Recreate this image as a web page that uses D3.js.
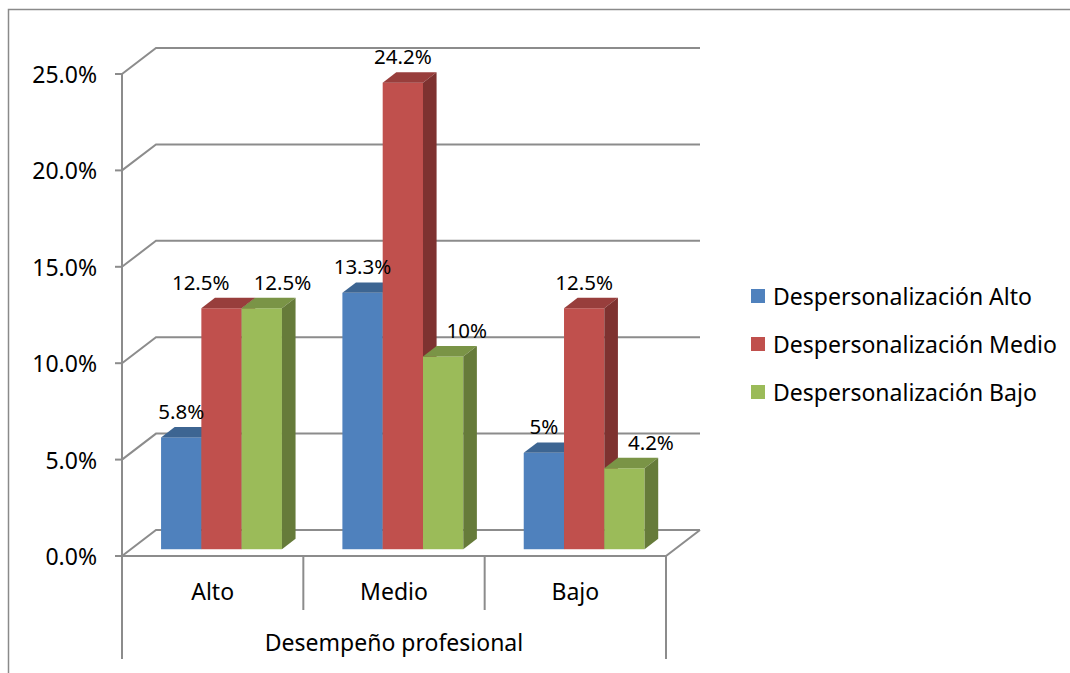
<!DOCTYPE html>
<html>
<head>
<meta charset="utf-8">
<script src="https://cdn.jsdelivr.net/npm/d3@7"></script>
<style>
  body { margin: 0; background: #fff; }
  svg text { font-family: "Noto Sans", "Open Sans", sans-serif; fill: #000; }
</style>
</head>
<body>
<svg id="chart" width="1070" height="673"></svg>
<script>
// data
const categories = ['Alto', 'Medio', 'Bajo'];
const seriesNames = ['Despersonalización Alto', 'Despersonalización Medio', 'Despersonalización Bajo'];
const serieAlto  = [5.8, 13.3, 5];
const serieMedio = [12.5, 24.2, 12.5];
const serieBajo  = [12.5, 10, 4.2];
const valueLabels = [
  ['5.8%', '13.3%', '5%'],
  ['12.5%', '24.2%', '12.5%'],
  ['12.5%', '10%', '4.2%']
];
const yTicks = [0, 5, 10, 15, 20, 25];
const axisTitle = 'Desempeño profesional';

const series = [serieAlto, serieMedio, serieBajo];
const fronts = ['#4f81bd', '#c0504d', '#9bbb59'];
const tops   = ['#3d6592', '#983e3c', '#7a9446'];
const sides  = ['#335479', '#7e3230', '#667b3a'];

const svg = d3.select('#chart');
const gridColor = '#8c8c8c';

// chart frame
svg.append('rect')
  .attr('x', 8.5).attr('y', 9.5)
  .attr('width', 1100).attr('height', 700)
  .attr('fill', 'none').attr('stroke', '#8a8a8a').attr('stroke-width', 1.5);

// plot geometry (oblique 3d)
const x0 = 122, plotW = 544;
const DX = 34, DY = -26;          // depth of the floor
const depthFront = 0.26, depthBack = 0.66;

const y = d3.scaleLinear().domain([0, 25]).range([556, 74]);
const xCat = d3.scaleBand().domain(categories).range([x0, x0 + plotW]);
const xSer = d3.scaleBand().domain(d3.range(series.length))
  .range([0, xCat.bandwidth()]).paddingOuter(0.75 / 1.5 * 1.0).paddingInner(0);
// gap width 150% -> outer padding of 0.75 bar each side
xSer.paddingOuter(0.75);

const bw = xSer.bandwidth();
const fdx = DX * depthFront, fdy = DY * depthFront;
const ddx = DX * (depthBack - depthFront), ddy = DY * (depthBack - depthFront);

// walls: gridlines with side diagonal
const grid = svg.append('g');
yTicks.forEach(t => {
  const yy = y(t);
  grid.append('path')
    .attr('d', `M${x0},${yy} L${x0 + DX},${yy + DY} L${x0 + plotW + DX},${yy + DY}`)
    .attr('fill', 'none').attr('stroke', gridColor).attr('stroke-width', 2);
});
// floor front edge and right diagonal
grid.append('path')
  .attr('d', `M${x0},${y(0)} L${x0 + plotW},${y(0)} L${x0 + plotW + DX},${y(0) + DY}`)
  .attr('fill', 'none').attr('stroke', gridColor).attr('stroke-width', 2);

// value axis
grid.append('line')
  .attr('x1', x0).attr('x2', x0).attr('y1', y(25)).attr('y2', 659)
  .attr('stroke', gridColor).attr('stroke-width', 2);
yTicks.forEach(t => {
  grid.append('line')
    .attr('x1', x0 - 7).attr('x2', x0).attr('y1', y(t)).attr('y2', y(t))
    .attr('stroke', gridColor).attr('stroke-width', 2);
  svg.append('text')
    .attr('x', 97).attr('y', y(t))
    .attr('text-anchor', 'end').attr('dominant-baseline', 'central')
    .style('font-size', '23px')
    .text(t.toFixed(1) + '%');
});

// category axis
categories.forEach((c, i) => {
  const xl = xCat(c);
  if (i > 0) {
    grid.append('line')
      .attr('x1', xl).attr('x2', xl).attr('y1', y(0)).attr('y2', 610)
      .attr('stroke', gridColor).attr('stroke-width', 2);
  }
  svg.append('text')
    .attr('x', xl + xCat.bandwidth() / 2).attr('y', 591)
    .attr('text-anchor', 'middle').attr('dominant-baseline', 'central')
    .style('font-size', '23px')
    .text(c);
});
grid.append('line')
  .attr('x1', x0 + plotW).attr('x2', x0 + plotW).attr('y1', y(0)).attr('y2', 659)
  .attr('stroke', gridColor).attr('stroke-width', 2);
svg.append('text')
  .attr('x', x0 + plotW / 2).attr('y', 642)
  .attr('text-anchor', 'middle').attr('dominant-baseline', 'central')
  .style('font-size', '23px')
  .text(axisTitle);

// bars, left to right so the next bar hides the side face
const bars = svg.append('g');
const boxes = [];
categories.forEach((c, ci) => {
  boxes[ci] = [];
  series.forEach((vals, si) => {
    const fx = xCat(c) + xSer(si) + fdx;
    const yb = y(0) + fdy;
    const yt = y(vals[ci]) + fdy;
    const g = bars.append('g');
    g.append('rect')
      .attr('x', fx).attr('y', yt).attr('width', bw).attr('height', yb - yt)
      .attr('fill', fronts[si]);
    g.append('polygon')
      .attr('points', [[fx, yt], [fx + ddx, yt + ddy], [fx + bw + ddx, yt + ddy], [fx + bw, yt]].join(' '))
      .attr('fill', tops[si]);
    g.append('polygon')
      .attr('points', [[fx + bw, yt], [fx + bw + ddx, yt + ddy], [fx + bw + ddx, yb + ddy], [fx + bw, yb]].join(' '))
      .attr('fill', sides[si]);
    boxes[ci].push({ left: fx, right: fx + bw + ddx, top: yt + ddy });
  });
});

// data labels, nudged away from a taller bar on the left and from each other
const labelG = svg.append('g');
const pad = 10, gap = 24;
categories.forEach((c, ci) => {
  const labs = series.map((vals, si) => {
    const b = boxes[ci][si];
    const t = labelG.append('text')
      .attr('text-anchor', 'middle')
      .style('font-size', '20.5px')
      .text(valueLabels[si][ci]);
    const w = t.node().getComputedTextLength();
    return { t, w, cx: b.left + bw / 2, base: b.top - 8 };
  });
  labs.forEach((l, si) => {
    if (si === 0) return;
    const prev = boxes[ci][si - 1];
    if (l.base + 3 > prev.top && l.cx - l.w / 2 < prev.right + pad) {
      l.cx = prev.right + pad + l.w / 2;
    }
  });
  for (let i = 0; i < labs.length; i++) {
    for (let j = i + 1; j < labs.length; j++) {
      const a = labs[i], b = labs[j];
      if (Math.abs(a.base - b.base) > 18) continue;
      const need = a.w / 2 + b.w / 2 + gap;
      const dist = b.cx - a.cx;
      if (dist < need) {
        const m = (need - dist) / 2;
        a.cx -= m; b.cx += m;
      }
    }
  }
  labs.forEach(l => l.t.attr('x', l.cx).attr('y', l.base));
});

// legend
const legend = svg.append('g').attr('transform', 'translate(751,296)');
seriesNames.forEach((n, i) => {
  legend.append('rect')
    .attr('x', 0).attr('y', i * 48 - 7).attr('width', 14).attr('height', 14)
    .attr('fill', fronts[i]);
  legend.append('text')
    .attr('x', 22).attr('y', i * 48)
    .attr('dominant-baseline', 'central')
    .style('font-size', '23px')
    .text(n);
});
</script>
</body>
</html>
